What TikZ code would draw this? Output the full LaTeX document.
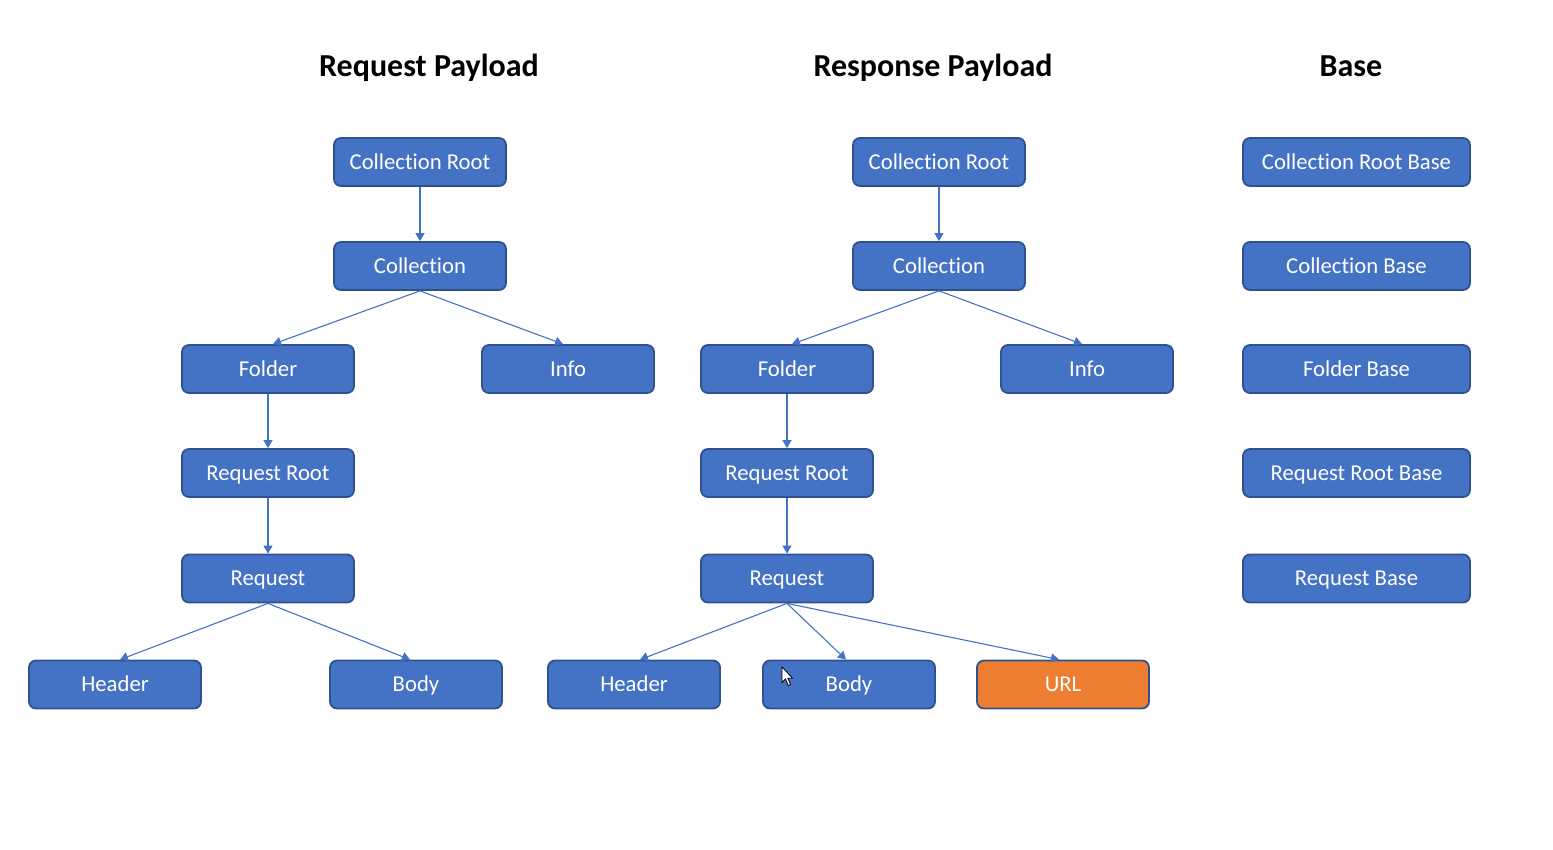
\documentclass[tikz,border=0pt]{standalone}
\usepackage{fontspec}
\setmainfont[Ligatures={NoCommon}]{Carlito}
\usetikzlibrary{arrows.meta}
\definecolor{boxblue}{HTML}{4472C4}
\definecolor{boxedge}{HTML}{2F528F}
\definecolor{boxorange}{HTML}{ED7D31}
\tikzset{
  nbox/.style={draw=boxedge, line width=1.8pt, fill=boxblue, rounded corners=7pt,
    minimum width=172pt, minimum height=48pt, inner sep=0pt,
    text=white, font=\fontsize{22.7pt}{26pt}\selectfont,
    text height=14.6pt, text depth=0pt},
  widebox/.style={nbox, minimum width=227pt},
  obox/.style={nbox, fill=boxorange},
  ttl/.style={font=\fontsize{32pt}{36pt}\selectfont\bfseries, anchor=base, inner sep=0pt},
  conn/.style={draw=boxblue, line width=1.1pt, -{Triangle[length=8pt,width=9pt]}}
}
\begin{document}
\begin{tikzpicture}[x=1pt,y=-1pt]
\useasboundingbox (0,0) rectangle (1553,850);
% titles
\node[ttl] (t1) at (429,77) {Request Payload};
\node[ttl] (t2) at (933,77) {Response Payload};
\node[ttl] (t3) at (1351,77) {Base};
% left tree
\node[nbox] (cr1) at (420,162) {Collection Root};
\node[nbox] (co1) at (420,266) {Collection};
\node[nbox] (fo1) at (268,369) {Folder};
\node[nbox] (in1) at (568,369) {Info};
\node[nbox] (rr1) at (268,473) {Request Root};
\node[nbox] (rq1) at (268,578.5) {Request};
\node[nbox] (he1) at (115,684.5) {Header};
\node[nbox] (bo1) at (416,684.5) {Body};
% middle tree
\node[nbox] (cr2) at (939,162) {Collection Root};
\node[nbox] (co2) at (939,266) {Collection};
\node[nbox] (fo2) at (787,369) {Folder};
\node[nbox] (in2) at (1087,369) {Info};
\node[nbox] (rr2) at (787,473) {Request Root};
\node[nbox] (rq2) at (787,578.5) {Request};
\node[nbox] (he2) at (634,684.5) {Header};
\node[nbox] (bo2) at (849,684.5) {Body};
\node[obox] (ur2) at (1063,684.5) {URL};
% base column
\node[widebox] (b1) at (1356.5,162) {Collection Root Base};
\node[widebox] (b2) at (1356.5,266) {Collection Base};
\node[widebox] (b3) at (1356.5,369) {Folder Base};
\node[widebox] (b4) at (1356.5,473) {Request Root Base};
\node[widebox] (b5) at (1356.5,578.5) {Request Base};
% connectors left
\draw[conn] (cr1.south) -- (co1.north);
\draw[conn] (co1.south) -- ([xshift=5pt]fo1.north);
\draw[conn] (co1.south) -- ([xshift=-5pt]in1.north);
\draw[conn] (fo1.south) -- (rr1.north);
\draw[conn] (rr1.south) -- (rq1.north);
\draw[conn] (rq1.south) -- ([xshift=5pt]he1.north);
\draw[conn] (rq1.south) -- ([xshift=-6pt]bo1.north);
% connectors middle
\draw[conn] (cr2.south) -- (co2.north);
\draw[conn] (co2.south) -- ([xshift=5pt]fo2.north);
\draw[conn] (co2.south) -- ([xshift=-5pt]in2.north);
\draw[conn] (fo2.south) -- (rr2.north);
\draw[conn] (rr2.south) -- (rq2.north);
\draw[conn] (rq2.south) -- ([xshift=6pt]he2.north);
\draw[conn] (rq2.south) -- ([xshift=-3pt]bo2.north);
\draw[conn] (rq2.south) -- ([xshift=-4pt]ur2.north);
% mouse cursor
\draw[black, fill=white, line width=0.8pt, line join=miter]
  (782,667) -- (782,682.5) -- (785.5,679) -- (788.3,685.5) -- (790.6,684.5)
  -- (787.9,678.3) -- (792.6,678.3) -- cycle;
\end{tikzpicture}
\end{document}
